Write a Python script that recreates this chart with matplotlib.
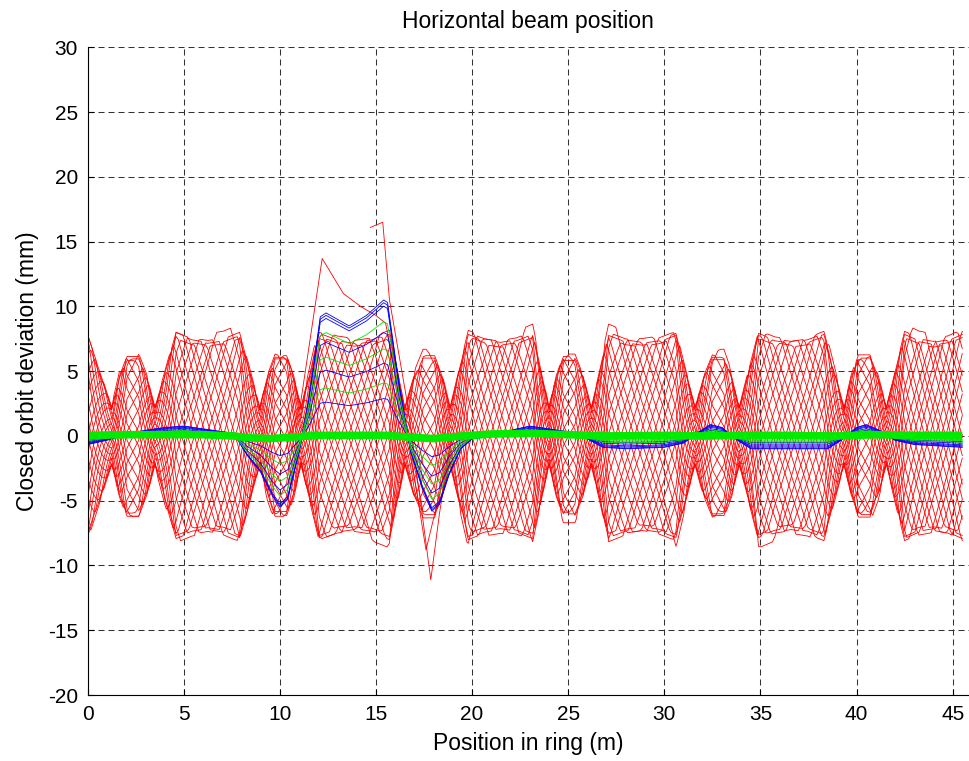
import numpy as np
import matplotlib
matplotlib.use("Agg")
from matplotlib import pyplot as plt

# red envelope: lattice features (m)
pinch_in = [1.25, 8.95, 16.5, 24.0, 31.6, 39.35]
bump_pos = [2.35, 10.05, 17.75, 25.05, 32.8, 40.4]
pinch_out = [3.5, 11.1, 18.85, 26.2, 33.9, 41.55]
flat_start = [4.6, 12.05, 19.8, 27.1, 34.9, 42.5]
flat_end = [7.9, 15.7, 23.15, 30.6, 38.3, 45.5]

# envelope half widths (mm) at the features
env_flat = [8.0, 7.5, 7.3, 7.5, 8.0]
env_flank = 4.6
env_bump = 6.2
env_pinch = 2.2

# phase advance (deg) between features
dmu_to_pinch = 90
dmu_flank = 45
dmu_to_bump = 35
dmu_bump = 20
dmu_flat = 40

# turn by turn phase (deg) and amplitude of the red traces
turn_phase = [0, 14, 31, 44, 61, 76, 89, 104, 121, 134, 151, 166,
              179, 194, 211, 224, 241, 256, 269, 284, 301, 314, 331, 346]
turn_amp = [1.0, 0.96, 0.98, 1.02, 0.94, 0.99, 0.97, 1.01, 0.95, 0.98, 1.03, 0.96,
            0.99, 0.94, 1.0, 0.97, 1.08, 0.95, 0.98, 1.01, 0.96, 0.99, 0.94, 1.0]

# odd red traces
odd1_s = [10.3, 11.05, 12.2, 13.3, 14.2, 15.0, 15.5, 16.6, 17.6, 18.3, 19.0]
odd1_x = [-1.0, 2.3, 13.7, 11.0, 10.0, 9.3, 8.7, 0.5, -8.8, -4.5, 0.0]
odd2_s = [14.7, 15.35, 15.7, 16.6, 17.3, 17.85, 18.3, 18.9]
odd2_x = [16.1, 16.5, 10.5, 2.8, -4.9, -11.1, -6.0, -0.3]

# closed orbits
orbit_s = [0, 1.0, 2.0, 3.0, 4.0, 5.0, 6.0, 7.0, 7.6, 8.3, 9.0, 9.6, 10.0, 10.4, 11.0, 11.5, 12.1,
           12.4, 13.0, 13.6, 14.5, 15.4, 15.6, 16.2, 16.8, 17.4, 17.9, 18.3, 18.8, 19.4, 20.0, 21.0,
           22.0, 23.0, 24.0, 25.0, 26.0, 26.8, 28.0, 30.0, 31.0, 31.8, 32.4, 33.0, 33.7, 34.5, 38.5,
           39.2, 40.0, 40.5, 41.2, 42.0, 43.0, 45.5]
orbit_bump = [0, 0, 0, 0, 0, 0, 0, 0, 0, -1.5, -2.8, -4.6, -5.5, -4.9, -1.2, 2.8, 9.2,
              9.5, 9.0, 8.5, 9.3, 10.5, 10.3, 4.0, -1.2, -4.0, -5.8, -5.3, -3.0, -1.0, 0, 0,
              0, 0, 0, 0, 0, 0, 0, 0, 0, 0, 0, 0, 0, 0, 0,
              0, 0, 0, 0, 0, 0, 0]
orbit_tail = [-0.6, -0.3, 0.1, 0.4, 0.6, 0.7, 0.5, 0.3, 0.2, 0, 0, 0, 0, 0, 0, 0, 0,
              0, 0, 0, 0, 0, 0, 0, 0, 0, 0, 0, 0, 0, -0.2, 0.0,
              0.4, 0.7, 0.5, 0.3, -0.2, -0.8, -0.9, -0.8, -0.5, 0.3, 0.8, 0.6, -0.2, -0.9, -0.9,
              -0.3, 0.6, 0.8, 0.4, -0.3, -0.6, -0.8]
blue_gain = [1.0, 0.98, 0.955, 0.76, 0.535, 0.275]
blue_tail = [1.1, 1.05, 0.95, 0.85, 0.7, 0.55]
green_gain = [0.84, 0.64, 0.39]
green_tail = [0.6, 0.45, 0.35]

# thick green trace
band_s = [0, 2, 4, 6, 7.6, 8.5, 9.5, 10.5, 12, 15.5, 16.8, 18, 19.5, 21, 23, 25, 27, 30, 32, 34,
          36, 39, 41, 43, 45.5]
band_x = [0.05, 0.1, 0.1, 0.1, 0.0, -0.15, -0.2, -0.1, 0.05, 0.05, -0.1, -0.2, 0.0, 0.15, 0.2,
          0.1, 0.0, 0.05, 0.0, 0.05, 0.05, 0.0, 0.1, 0.05, 0.05]

# feature list (position, envelope, phase step) for the red traces
feat = [(0.0, 7.8, 0)]
for i in range(6):
    b = bump_pos[i]
    feat += [(pinch_in[i], env_pinch, dmu_to_pinch),
             ((pinch_in[i] + b - 0.3) / 2, env_flank, dmu_flank),
             (b - 0.3, env_bump, dmu_to_bump),
             (b + 0.3, env_bump, dmu_bump),
             ((pinch_out[i] + b + 0.3) / 2, env_flank, dmu_to_bump),
             (pinch_out[i], env_pinch, dmu_flank),
             (flat_start[i], env_flat[0], dmu_to_pinch)]
    for j in range(1, 5):
        feat.append((flat_start[i] + j * (flat_end[i] - flat_start[i]) / 4, env_flat[j], dmu_flat))

# split each stretch in small phase steps
ks, ke, km = [feat[0][0]], [feat[0][1]], [0.0]
mu = 0.0
for (s0, e0, _), (s1, e1, d) in zip(feat[:-1], feat[1:]):
    n = max(1, int(np.ceil(d / 6.0)))
    for k in range(1, n + 1):
        f = k / n
        ks.append(s0 + f * (s1 - s0))
        ke.append(e0 + f * (e1 - e0))
        km.append(mu + f * d)
    mu += d
ks, ke, km = np.array(ks), np.array(ke), np.array(km)


def swing(deg):
    # straight runs that bounce off the envelope
    tri = 2 / np.pi * np.arcsin(np.cos(np.radians(deg)))
    return np.clip(1.25 * tri, -1, 1)


plt.rcParams['axes.unicode_minus'] = False
fig = plt.figure(figsize=(9.69, 7.61), dpi=100)
plt.rcParams['font.family'] = ['Liberation Sans', 'DejaVu Sans']
ax = fig.add_axes([0.0905, 0.0867, 0.9095, 0.851])

for ph, a in zip(turn_phase, turn_amp):
    ax.plot(ks, a * ke * swing(km + ph), color=(1, 0, 0), lw=0.6)
ax.plot(odd1_s, odd1_x, color=(1, 0, 0), lw=0.6)
ax.plot(odd2_s, odd2_x, color=(1, 0, 0), lw=0.6)

ob = np.array(orbit_bump)
ot = np.array(orbit_tail)
for g, t in zip(blue_gain, blue_tail):
    ax.plot(orbit_s, g * ob + t * ot, color=(0, 0, 1), lw=0.6)
for g, t in zip(green_gain, green_tail):
    ax.plot(orbit_s, g * ob + t * ot, color=(0, 0.9, 0), lw=0.6)
ax.plot(band_s, band_x, color=(0, 0.92, 0), lw=5.5, solid_capstyle='butt')

ax.set_xlim(0, 45.85)
ax.set_ylim(-20, 30)
ax.set_xticks(range(0, 50, 5))
ax.set_yticks(range(-20, 35, 5))
ax.grid(True, color='0.2', lw=0.75, linestyle=(0, (5.8, 3.8)))
for sp in ['top', 'right']:
    ax.spines[sp].set_visible(False)
ax.tick_params(direction='in', length=4, labelsize=15, pad=7)
ax.set_title("Horizontal beam position", fontsize=16.5, pad=14)
ax.set_xlabel("Position in ring (m)", fontsize=16.5, labelpad=6)
ax.set_ylabel("Closed orbit deviation (mm)", fontsize=16.5, labelpad=6)

plt.savefig("out.png", dpi=100)
